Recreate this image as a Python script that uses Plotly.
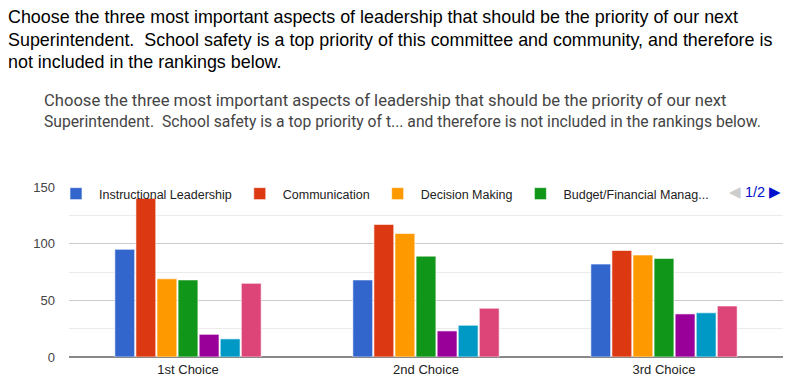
import plotly.graph_objects as go

categories = ["1st Choice", "2nd Choice", "3rd Choice"]
series_names = [
    "Instructional Leadership",
    "Communication",
    "Decision Making",
    "Budget/Financial Manag...",
    "Series 5",
    "Series 6",
    "Series 7",
]
series_values = [
    [95, 68, 82],
    [140, 117, 94],
    [69, 109, 90],
    [68, 89, 87],
    [20, 23, 38],
    [16, 28, 39],
    [65, 43, 45],
]
series_colors = ["#3366cc", "#dc3912", "#ff9900", "#109618", "#990099", "#0099c6", "#dd4477"]
legend_visible = [True, True, True, True, False, False, False]

top_lines = [
    "Choose the three most important aspects of leadership that should be the priority of our next",
    "Superintendent.  School safety is a top priority of this committee and community, and therefore is",
    "not included in the rankings below.",
]
chart_title_lines = [
    "Choose the three most important aspects of leadership that should be the priority of our next",
    "Superintendent.  School safety is a top priority of t... and therefore is not included in the rankings below.",
]
chart_title_sizes = [16.6, 15.7]

# page has an 8px body margin; work in reference-pixel coordinates and offset
OFF = 8
WIN_W, WIN_H = 797, 385
W, H = WIN_W - 2 * OFF, WIN_H - 2 * OFF
plot_left, plot_right, plot_top, plot_bottom = 69, 783, 187, 357  # reference px
L = plot_left - OFF
R = W - (plot_right - OFF)
T = plot_top - OFF
B = H - (plot_bottom - OFF)
PW, PH = W - L - R, H - T - B


def px_x(x):
    return (x - OFF - L) / PW


def px_y(y):
    return (H - B - (y - OFF)) / PH


fig = go.Figure()
for name, vals, col, show in zip(series_names, series_values, series_colors, legend_visible):
    fig.add_trace(go.Bar(
        x=categories, y=vals, name=name,
        marker=dict(color=col, line=dict(color="white", width=0.6)),
        showlegend=show,
    ))

annotations = []
for i, line in enumerate(top_lines):
    annotations.append(dict(
        text=line, x=px_x(6), y=px_y(17 + i * 22.5), xref="paper", yref="paper",
        xanchor="left", yanchor="middle", showarrow=False,
        font=dict(family="Liberation Sans, Arial", size=17.9, color="#000000"),
    ))
for i, (line, sz) in enumerate(zip(chart_title_lines, chart_title_sizes)):
    annotations.append(dict(
        text=line, x=px_x(42), y=px_y(100 + i * 21.5), xref="paper", yref="paper",
        xanchor="left", yanchor="middle", showarrow=False,
        font=dict(family="Roboto", size=sz, color="#444444"),
    ))
annotations.append(dict(
    text="<span style='color:#cccccc'>◀</span> <span style='color:#0011cc'>1/2</span> <span style='color:#0011cc'>▶</span>",
    x=1.0, y=px_y(192), xref="paper", yref="paper", xanchor="right", yanchor="middle",
    showarrow=False, font=dict(family="Liberation Sans, Arial", size=14.5),
))

fig.update_layout(
    width=W, height=H,
    margin=dict(l=L, r=R, t=T, b=B, autoexpand=False),
    paper_bgcolor="white", plot_bgcolor="white",
    barmode="group", bargap=0.38, bargroupgap=0.06,
    font=dict(family="Liberation Sans, Arial", size=13, color="#222222"),
    legend=dict(
        orientation="h", x=px_x(53), xanchor="left", y=px_y(179), yanchor="top",
        bgcolor="rgba(0,0,0,0)", font=dict(size=12.5, color="#222222"),
        itemwidth=36, itemclick=False,
    ),
    annotations=annotations,
    showlegend=True,
)
fig.update_yaxes(
    range=[0, 150], dtick=50, showgrid=True, gridcolor="#cccccc", gridwidth=1,
    minor=dict(dtick=25, showgrid=True, gridcolor="#ebebeb"),
    zeroline=True, zerolinecolor="#888888", zerolinewidth=2,
    tickfont=dict(color="#444444", size=13), ticks="", ticklabelstandoff=13,
)
fig.update_xaxes(showline=False, tickfont=dict(color="#222222", size=13), ticks="",
                 ticklabelstandoff=3)

fig.write_html("out.html")
